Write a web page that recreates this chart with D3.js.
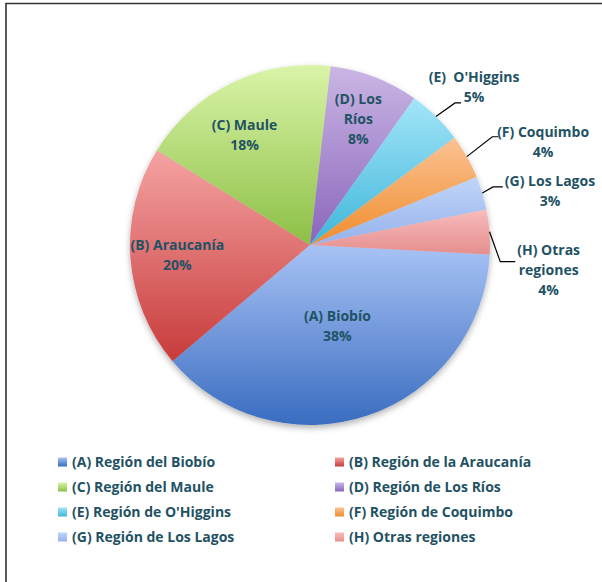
<!DOCTYPE html>
<html>
<head>
<meta charset="utf-8">
<script src="https://cdn.jsdelivr.net/npm/d3@7"></script>
<style>
  body { margin: 0; background: #fff; }
  text { font-family: "Open Sans", Lato, sans-serif; font-weight: bold; }
</style>
</head>
<body>
<div id="vis"></div>
<script>
// data
var letters = ["A", "B", "C", "D", "E", "F", "G", "H"];
var legendNames = [
  "(A) Región del Biobío", "(B) Región de la Araucanía",
  "(C) Región del Maule", "(D) Región de Los Ríos",
  "(E) Región de O'Higgins", "(F) Región de Coquimbo",
  "(G) Región de Los Lagos", "(H) Otras regiones"
];
var shortNames = ["(A) Biobío", "(B) Araucanía", "(C) Maule", "(D) Los\nRíos",
  "(E)  O'Higgins", "(F) Coquimbo", "(G) Los Lagos", "(H) Otras\nregiones"];
var shares = [38, 20, 18, 8, 5, 4, 3, 4];
// gradient stops, light (top) and dark (bottom)
var topColors = ["#a8c3f5", "#f5a3a3", "#daf4a8", "#cab6e4", "#a3e5f8", "#fbc293", "#c0d5fa", "#f8bcbc"];
var bottomColors = ["#3a6cc0", "#c83b3b", "#8cbf46", "#8a65bc", "#3fb6da", "#f08d2e", "#95b2ea", "#e68e8e"];

var width = 602, height = 582;
var center = { x: 310, y: 245 };
var radius = 180;
var startAngle = 93 * Math.PI / 180;
var textColor = "#1f5264";

// label placement: [radius, angle tweak in degrees]
var inside = { A: [86, 0], B: [133, 0], C: [128, -5], D: [135, 0] };
// outside labels: label box centre and leader elbow, as [radius, angle deg]
var outside = {
  E: { label: [228, 46], elbow: [203, 45.6] },
  F: { label: [255, 66.1], elbow: [212, 59.3] },
  G: { label: [246, 77.3], elbow: [192, 72.4] },
  H: { label: [240, 96], elbow: [191, 95] }
};

var data = letters.map(function (l, i) {
  return { letter: l, name: legendNames[i], short: shortNames[i], value: shares[i],
           top: topColors[i], bottom: bottomColors[i] };
});

var svg = d3.select("#vis").append("svg")
  .attr("width", width)
  .attr("height", height);

var defs = svg.append("defs");
data.forEach(function (d) {
  var g = defs.append("linearGradient")
    .attr("id", "grad" + d.letter)
    .attr("x1", 0).attr("y1", 0).attr("x2", 0).attr("y2", 1);
  g.append("stop").attr("offset", "0%").attr("stop-color", d.top);
  g.append("stop").attr("offset", "100%").attr("stop-color", d.bottom);
});
var shadow = defs.append("filter").attr("id", "shadow")
  .attr("x", "-10%").attr("y", "-10%").attr("width", "120%").attr("height", "125%");
shadow.append("feDropShadow")
  .attr("dx", 0).attr("dy", 3).attr("stdDeviation", 3)
  .attr("flood-color", "#000").attr("flood-opacity", 0.3);

// frame
svg.append("path")
  .attr("d", "M6,582V3.5H602")
  .attr("fill", "none")
  .attr("stroke", "#333")
  .attr("stroke-width", 1.6);

var pie = d3.pie()
  .sort(null)
  .value(function (d) { return d.value; })
  .startAngle(startAngle)
  .endAngle(startAngle + 2 * Math.PI);

var arc = d3.arc().innerRadius(0).outerRadius(radius);
var arcs = pie(data);

var chart = svg.append("g")
  .attr("transform", "translate(" + center.x + "," + center.y + ")");

chart.append("g")
  .attr("filter", "url(#shadow)")
  .selectAll("path")
  .data(arcs)
  .enter().append("path")
  .attr("d", arc)
  .attr("fill", function (d) { return "url(#grad" + d.data.letter + ")"; });

function polar(r, deg) {
  var a = deg * Math.PI / 180;
  return [r * Math.sin(a), -r * Math.cos(a)];
}
function midDeg(d) {
  return (d.startAngle + d.endAngle) / 2 * 180 / Math.PI;
}

var lineH = 20;
function labelLines(d) {
  return d.data.short.split("\n").concat([d.data.value + "%"]);
}

function drawBlock(g, lines, x, y) {
  var t = g.append("text")
    .attr("text-anchor", "middle")
    .attr("fill", textColor)
    .attr("font-size", 14)
    .style("white-space", "pre");
  var top = y - (lines.length - 1) * lineH / 2;
  lines.forEach(function (s, i) {
    t.append("tspan")
      .attr("x", x)
      .attr("y", top + i * lineH)
      .attr("dy", "0.35em")
      .text(s);
  });
  return t;
}

arcs.forEach(function (d) {
  var l = d.data.letter;
  var lines = labelLines(d);
  if (inside[l]) {
    var p = polar(inside[l][0], (midDeg(d) % 360) + inside[l][1]);
    drawBlock(chart, lines, p[0], p[1]);
  } else {
    var o = outside[l];
    var lp = polar(o.label[0], o.label[1]);
    var t = drawBlock(chart, lines, lp[0], lp[1]);
    var bb = t.node().getBBox();
    var edge = polar(radius, midDeg(d) % 360);
    var elbow = polar(o.elbow[0], o.elbow[1]);
    var endX = Math.max(elbow[0] + 6, bb.x - 2);
    chart.append("polyline")
      .attr("points", [edge, elbow, [endX, elbow[1]]].map(function (q) { return q.join(","); }).join(" "))
      .attr("fill", "none")
      .attr("stroke", "#000")
      .attr("stroke-width", 1.2);
  }
});

// legend
var legend = svg.append("g").attr("transform", "translate(58,462)");
var colX = d3.scalePoint().domain([0, 1]).range([0, 277]);
var rowY = d3.scalePoint().domain([0, 1, 2, 3]).range([0, 75]);
var items = legend.selectAll("g")
  .data(data)
  .enter().append("g")
  .attr("transform", function (d, i) {
    return "translate(" + colX(i % 2) + "," + rowY(Math.floor(i / 2)) + ")";
  });
items.append("rect")
  .attr("x", 0).attr("y", -4.5)
  .attr("width", 9).attr("height", 9)
  .attr("fill", function (d) { return "url(#grad" + d.letter + ")"; });
items.append("text")
  .attr("x", 14)
  .attr("dy", "0.35em")
  .attr("font-size", 14)
  .attr("fill", textColor)
  .text(function (d) { return d.name; });
</script>
</body>
</html>
